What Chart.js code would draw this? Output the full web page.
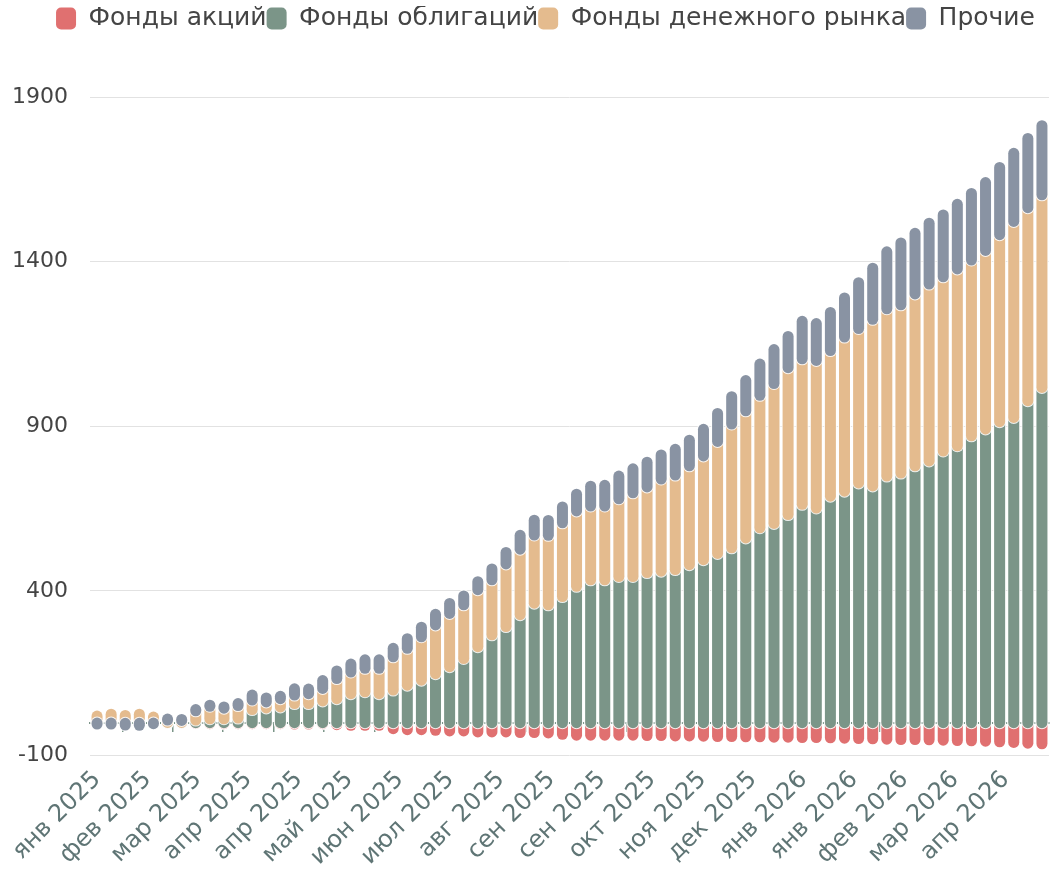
<!DOCTYPE html>
<html lang="ru">
<head>
<meta charset="utf-8">
<title>Фонды</title>
<script src="https://cdn.jsdelivr.net/npm/chart.js@4.4.1/dist/chart.umd.min.js"></script>
<style>
  html, body { margin: 0; padding: 0; background: #fff; }
  #wrap { width: 1050px; height: 873px; }
</style>
</head>
<body>
<div id="wrap"><canvas id="fundsChart"></canvas></div>
<script>
// Weekly values, Jan 2025 - Apr 2026

const seriesNames = ["Фонды акций", "Фонды облигаций", "Фонды денежного рынка", "Прочие"];
const seriesColors = ["#e07070", "#7b9588", "#e4bb8e", "#8993a3"];

const equity = [
  -1, -1, -2, -2, -1, -1, -1, -2, -3, -3, -3, -3, -3, -3, -4, -4,
  -3, -6, -8, -8, -8, -18, -21, -21, -23, -25, -25, -28,
  -28, -28, -30, -30, -31, -35,
  -38, -38, -38, -38, -38, -39, -39, -40, -40, -41, -42, -42, -43, -43, -44, -44,
  -45, -45, -46, -47, -48, -49, -50, -51, -51, -52, -53, -54, -55, -56, -58, -60, -62, -64
];
const bonds = [
  2, 2, 1, 1, 1, 1, 1, 8, 12, 12, 14, 40, 45, 48, 58, 58,
  66, 73, 88, 94, 88, 99, 114, 129, 149, 170, 195, 231,
  267, 292, 328, 363, 358, 383,
  414, 434, 434, 444, 444, 456, 460, 465, 480, 495, 514, 531, 561, 592, 605, 632,
  663, 652, 688, 703, 728, 719, 749, 758, 780, 795, 825, 841, 871, 892, 914, 927, 978, 1018
];
const moneyMarket = [
  18, 24, 21, 25, 16, 7, 6, 28, 38, 32, 38, 29, 18, 25, 26, 30,
  38, 61, 66, 71, 77, 101, 112, 132, 148, 162, 163, 173,
  167, 190, 199, 207, 211, 224,
  229, 224, 224, 236, 254, 260, 280, 287, 300, 315, 340, 376, 386, 402, 425, 446,
  442, 448, 442, 468, 469, 506, 508, 511, 522, 537, 529, 537, 534, 542, 568, 595, 586, 585
];
const other = [
  -3, -3, -5, -6, -2, 3, 3, 4, 3, 4, 6, 15, 12, 7, 19, 14,
  24, 23, 24, 26, 26, 26, 29, 29, 32, 30, 27, 24,
  33, 35, 42, 45, 45, 48,
  51, 60, 63, 69, 73, 75, 73, 78, 78, 81, 85, 83, 92, 95, 103, 95,
  114, 112, 116, 119, 139, 155, 173, 188, 184, 185, 188, 196, 202, 206, 204, 207, 210, 210
];

const tickLabels = [
  "янв 2025", "фев 2025", "мар 2025", "апр 2025", "апр 2025", "май 2025", "июн 2025",
  "июл 2025", "авг 2025", "сен 2025", "сен 2025", "окт 2025", "ноя 2025", "дек 2025",
  "янв 2026", "янв 2026", "фев 2026", "мар 2026", "апр 2026"
];
const yTicks = [-100, 400, 900, 1400, 1900];

const weeks = bonds.map((_, i) => i);
const allSeries = [equity, bonds, moneyMarket, other];

// date ticks are spread evenly over the weeks, like a time axis
function placeDateTicks(axis) {
  const step = weeks.length / tickLabels.length;
  axis.ticks = tickLabels.map((_, i) => ({ value: i * step }));
}

// every segment is drawn as a thick line with round caps,
// later series on top of earlier ones
const pillBars = {
  id: "pillBars",
  beforeDatasetsDraw(chart) {
    const ctx = chart.ctx;
    ctx.save();
    ctx.lineCap = "round";
    chart.data.datasets.forEach((ds, di) => {
      const meta = chart.getDatasetMeta(di);
      if (meta.hidden) return;
      meta.data.forEach((bar) => {
        const { x, y, base, width } = bar.getProps(["x", "y", "base", "width"]);
        ctx.beginPath();
        ctx.moveTo(x, base);
        ctx.lineTo(x, y);
        ctx.strokeStyle = "rgba(255,255,255,0.85)";
        ctx.lineWidth = width + 2;
        ctx.stroke();
        ctx.strokeStyle = ds.backgroundColor;
        ctx.lineWidth = width;
        ctx.stroke();
      });
    });
    ctx.restore();
  },
  beforeDatasetDraw() {
    return false;
  },
};

// more room under the legend, legend a bit to the right
const legendTweak = {
  id: "legendTweak",
  beforeInit(chart) {
    const legend = chart.legend;
    const fit = legend.fit;
    legend.fit = function () {
      fit.call(this);
      this.height += 56;
    };
    const draw = legend.draw;
    legend.draw = function (area) {
      this.ctx.save();
      this.ctx.translate(15, 0);
      draw.call(this, area);
      this.ctx.restore();
    };
  },
};

const fontFamily = "'DejaVu Sans', sans-serif";

new Chart(document.getElementById("fundsChart"), {
  type: "bar",
  data: {
    labels: weeks,
    datasets: allSeries.map((values, i) => ({
      label: seriesNames[i],
      data: values,
      backgroundColor: seriesColors[i],
      borderWidth: 0,
      categoryPercentage: 1,
      barPercentage: 0.78,
    })),
  },
  options: {
    responsive: true,
    maintainAspectRatio: false,
    animation: false,
    events: [],
    layout: { padding: { left: 12, right: 1, top: 6, bottom: 0 } },
    plugins: {
      tooltip: { enabled: false },
      legend: {
        position: "top",
        align: "center",
        labels: {
          color: "#444",
          font: { family: fontFamily, size: 25 },
          boxWidth: 20,
          boxHeight: 22,
          useBorderRadius: true,
          borderRadius: 5,
          padding: 0,
        },
      },
    },
    scales: {
      x: {
        type: "linear",
        stacked: true,
        min: -0.5,
        max: weeks.length - 0.5,
        offset: false,
        afterBuildTicks: placeDateTicks,
        afterFit: (axis) => {
          axis.paddingLeft = 0;
        },
        grid: { display: false, offset: false },
        border: { display: false },
        ticks: {
          autoSkip: false,
          maxRotation: 45,
          minRotation: 45,
          color: "#5f7575",
          font: { family: fontFamily, size: 24 },
          padding: 2,
          callback: (value, index) => tickLabels[index],
        },
      },
      zeroAxis: {
        type: "linear",
        axis: "x",
        position: { y: 0 },
        min: -0.5,
        max: weeks.length - 0.5,
        offset: false,
        afterBuildTicks: placeDateTicks,
        grid: {
          drawOnChartArea: false,
          drawTicks: true,
          tickLength: 8,
          color: "#7b9588",
          lineWidth: 1.5,
        },
        border: { color: "#7b9588", width: 2 },
        ticks: { display: false },
      },
      y: {
        stacked: true,
        min: yTicks[0],
        max: yTicks[yTicks.length - 1],
        afterBuildTicks: (axis) => {
          axis.ticks = yTicks.map((v) => ({ value: v }));
        },
        // padding only between labels and grid, none on the outer side
        afterFit: (axis) => {
          axis.width -= axis.options.ticks.padding;
        },
        grid: { color: "#e2e2e2", drawTicks: false },
        border: { display: false },
        ticks: {
          color: "#444",
          font: { family: fontFamily, size: 22 },
          padding: 22,
          callback: (value) => String(value),
        },
      },
    },
  },
  plugins: [pillBars, legendTweak],
});
</script>
</body>
</html>
